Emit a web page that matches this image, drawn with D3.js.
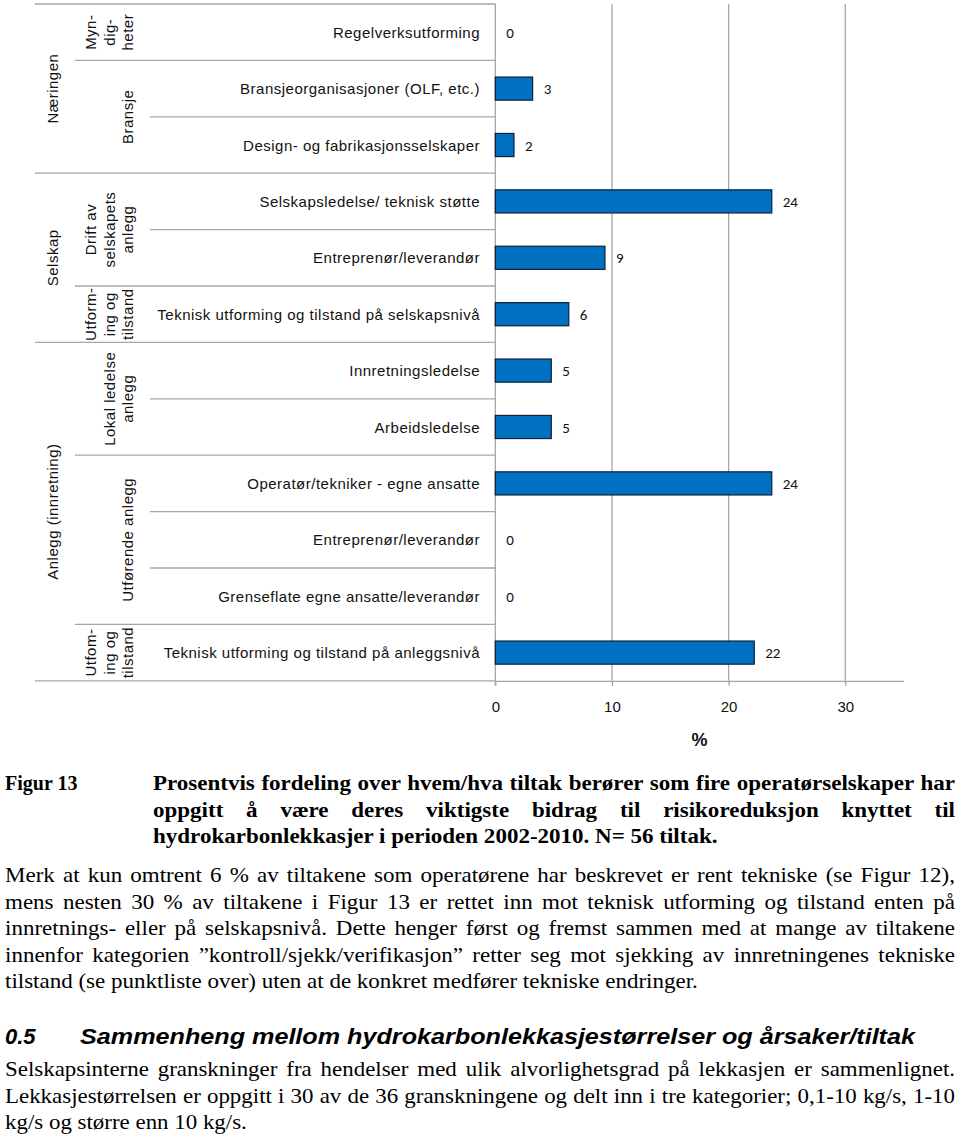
<!DOCTYPE html>
<html><head><meta charset="utf-8">
<script src="https://cdn.jsdelivr.net/npm/d3@7"></script>
<style>body{margin:0;background:#fff}svg{display:block}
.serif{font-family:"Liberation Serif","Times New Roman",Times,"DejaVu Serif",serif}
.sans{font-family:"Liberation Sans",Arial,Helvetica,sans-serif}
</style>
</head><body>
<svg id="c" width="960" height="1137"></svg>
<script>
// ---------- data ----------
const categories = [
  "Regelverksutforming",
  "Bransjeorganisasjoner (OLF, etc.)",
  "Design- og fabrikasjonsselskaper",
  "Selskapsledelse/ teknisk støtte",
  "Entreprenør/leverandør",
  "Teknisk utforming og tilstand på selskapsnivå",
  "Innretningsledelse",
  "Arbeidsledelse",
  "Operatør/tekniker - egne ansatte",
  "Entreprenør/leverandør",
  "Grenseflate egne ansatte/leverandør",
  "Teknisk utforming og tilstand på anleggsnivå"
];
const values = [0, 3.2, 1.6, 23.7, 9.4, 6.3, 4.8, 4.8, 23.7, 0, 0, 22.2];
const xTicks = [0, 10, 20, 30];
const xTitle = "%";
const level1Groups = [
  {lines: ["Næringen"], start: 0, end: 2},
  {lines: ["Selskap"], start: 3, end: 5},
  {lines: ["Anlegg (innretning)"], start: 6, end: 11}
];
const level2Groups = [
  {lines: ["Myn-", "dig-", "heter"], start: 0, end: 0},
  {lines: ["Bransje"], start: 1, end: 2},
  {lines: ["Drift av", "selskapets", "anlegg"], start: 3, end: 4},
  {lines: ["Utform-", "ing og", "tilstand"], start: 5, end: 5},
  {lines: ["Lokal ledelse", "anlegg"], start: 6, end: 7},
  {lines: ["Utførende anlegg"], start: 8, end: 10},
  {lines: ["Utfom-", "ing og", "tilstand"], start: 11, end: 11}
];
const captionLabel = "Figur 13";
const captionLines = [
  "Prosentvis fordeling over hvem/hva tiltak berører som fire operatørselskaper har",
  "oppgitt å være deres viktigste bidrag til risikoreduksjon knyttet til",
  "hydrokarbonlekkasjer i perioden 2002-2010. N= 56 tiltak."
];
const para1Lines = [
  "Merk at kun omtrent 6 % av tiltakene som operatørene har beskrevet er rent tekniske (se Figur 12),",
  "mens nesten 30 % av tiltakene i Figur 13 er rettet inn mot teknisk utforming og tilstand enten på",
  "innretnings- eller på selskapsnivå. Dette henger først og fremst sammen med at mange av tiltakene",
  "innenfor kategorien ”kontroll/sjekk/verifikasjon” retter seg mot sjekking av innretningenes tekniske",
  "tilstand (se punktliste over) uten at de konkret medfører tekniske endringer."
];
const headingNumber = "0.5";
const headingText = "Sammenheng mellom hydrokarbonlekkasjestørrelser og årsaker/tiltak";
const para2Lines = [
  "Selskapsinterne granskninger fra hendelser med ulik alvorlighetsgrad på lekkasjen er sammenlignet.",
  "Lekkasjestørrelsen er oppgitt i 30 av de 36 granskningene og delt inn i tre kategorier; 0,1-10 kg/s, 1-10",
  "kg/s og større enn 10 kg/s."
];

// ---------- chart ----------
const svg = d3.select("#c");
const grey = "#a6a6a6";
const x = d3.scaleLinear().domain([0, 35]).range([495.3, 903.6]);
const y = d3.scaleBand().domain(d3.range(categories.length)).range([4, 680.8]).padding(0);
const bw = y.bandwidth();
const barH = bw * 0.41;

// gridlines
svg.append("g").attr("class", "grid").selectAll("line").data(xTicks.filter(t => t > 0)).join("line")
  .attr("x1", d => x(d)).attr("x2", d => x(d))
  .attr("y1", y.range()[0]).attr("y2", y.range()[1])
  .attr("stroke", grey).attr("stroke-width", 1.3);

// horizontal separators between rows
const l1Bounds = new Set(level1Groups.map(g => g.end));
const l2Bounds = new Set(level2Groups.map(g => g.end));
const sepData = [{yy: y(0), x0: 35}];
categories.forEach((c, i) => {
  sepData.push({yy: y(i) + bw, x0: l1Bounds.has(i) ? 35 : (l2Bounds.has(i) ? 75 : 150)});
});
svg.append("g").attr("class", "seps").selectAll("line").data(sepData).join("line")
  .attr("x1", d => d.x0).attr("x2", x(0))
  .attr("y1", d => d.yy).attr("y2", d => d.yy)
  .attr("stroke", grey).attr("stroke-width", 1.3);

// x axis
const ax = svg.append("g").attr("transform", `translate(0,${y.range()[1]})`)
  .call(d3.axisBottom(x).tickValues(xTicks).tickSize(5).tickSizeOuter(0).tickPadding(16));
ax.select(".domain").attr("stroke", grey).attr("stroke-width", 1.3);
ax.selectAll(".tick line").attr("stroke", grey).attr("stroke-width", 1.3);
ax.selectAll(".tick text").attr("class", "sans").attr("font-size", 15).attr("fill", "#111");
ax.attr("font-family", null);

// vertical axis line
svg.append("line").attr("x1", x(0)).attr("x2", x(0)).attr("y1", y.range()[0]).attr("y2", y.range()[1] + 5)
  .attr("stroke", grey).attr("stroke-width", 1.3);

svg.append("text").attr("class", "sans").attr("x", (x.range()[0] + x.range()[1]) / 2).attr("y", 746)
  .attr("text-anchor", "middle").attr("font-weight", "bold")
  .attr("font-size", 18).attr("fill", "#111").text(xTitle);

// bars
svg.append("g").selectAll("rect").data(values.map((v, i) => ({v, i})).filter(d => d.v > 0)).join("rect")
  .attr("x", x(0)).attr("y", d => y(d.i) + (bw - barH) / 2)
  .attr("width", d => x(d.v) - x(0)).attr("height", barH)
  .attr("fill", "#0070c0").attr("stroke", "#0f2038").attr("stroke-width", 1.2);

// value labels
svg.append("g").selectAll("text").data(values).join("text")
  .attr("x", d => x(d) + 11).attr("y", (d, i) => y(i) + bw / 2 + 5.5)
  .style("font-family", "Carlito, Lato, sans-serif").attr("font-size", 15).attr("fill", "#111")
  .text(d => d3.format(".0f")(d));

// category labels
svg.append("g").selectAll("text").data(categories).join("text")
  .attr("class", "sans").attr("x", 480).attr("y", (d, i) => y(i) + bw / 2 + 5.5)
  .attr("text-anchor", "end").attr("font-size", 15)
  .attr("letter-spacing", 0.5).attr("fill", "#111").text(d => d);

// rotated group labels
function groupLabels(groups, lastBaseX) {
  const g = svg.append("g");
  groups.forEach(gr => {
    const cy = (y(gr.start) + y(gr.end) + bw) / 2;
    const n = gr.lines.length;
    gr.lines.forEach((ln, k) => {
      const bx = lastBaseX - 18.5 * (n - 1 - k);
      g.append("text").attr("class", "sans").attr("transform", `translate(${bx},${cy}) rotate(-90)`)
        .attr("text-anchor", "middle").attr("font-size", 15)
        .attr("letter-spacing", 0.5).attr("fill", "#111").text(ln);
    });
  });
}
groupLabels(level1Groups, 58);
groupLabels(level2Groups, 133);

// ---------- text below ----------
function measure(txt, cls, size, weight, style) {
  const t = svg.append("text").attr("class", cls).attr("font-size", size)
    .attr("font-weight", weight || "normal").attr("font-style", style || "normal").text(txt);
  const w = t.node().getComputedTextLength();
  t.remove();
  return w;
}
function block(lines, opt) {
  const refW = measure(lines[opt.refIndex], opt.cls, opt.size, opt.weight, opt.style);
  const sx = opt.refWidth / refW;
  lines.forEach((ln, i) => {
    const g = svg.append("g").attr("transform", `translate(${opt.x},${opt.y0 + i * opt.lh}) scale(${sx},1)`);
    const t = g.append("text").attr("class", opt.cls).attr("font-size", opt.size)
      .attr("font-weight", opt.weight || "normal").attr("font-style", opt.style || "normal")
      .attr("fill", "#000").text(ln);
    if (i < lines.length - 1) {
      const w = t.node().getComputedTextLength();
      const spaces = (ln.match(/ /g) || []).length;
      const target = (opt.right - opt.x) / sx;
      if (spaces > 0) t.attr("word-spacing", (target - w) / spaces);
    }
  });
}
// caption
svg.append("text").attr("class", "serif").attr("x", 5).attr("y", 790).attr("font-size", 20)
  .attr("font-weight", "bold").attr("fill", "#000").text(captionLabel);
block(captionLines, {x: 153, y0: 790, lh: 26.5, right: 955, cls: "serif", size: 20, weight: "bold", refIndex: 2, refWidth: 565});
// paragraph 1
block(para1Lines, {x: 5, y0: 882, lh: 26.6, right: 955, cls: "serif", size: 20, refIndex: 4, refWidth: 693});
// heading
svg.append("text").attr("class", "sans").attr("x", 5).attr("y", 1043.5).attr("font-size", 22)
  .attr("font-weight", "bold").attr("font-style", "italic").attr("fill", "#000").text(headingNumber);
svg.append("text").attr("class", "sans").attr("x", 80).attr("y", 1043.5).attr("font-size", 22)
  .attr("font-weight", "bold").attr("font-style", "italic").attr("fill", "#000")
  .attr("textLength", 835).attr("lengthAdjust", "spacingAndGlyphs").text(headingText);
// paragraph 2
block(para2Lines, {x: 5, y0: 1076, lh: 26.5, right: 955, cls: "serif", size: 20, refIndex: 2, refWidth: 242});
</script>
</body></html>
